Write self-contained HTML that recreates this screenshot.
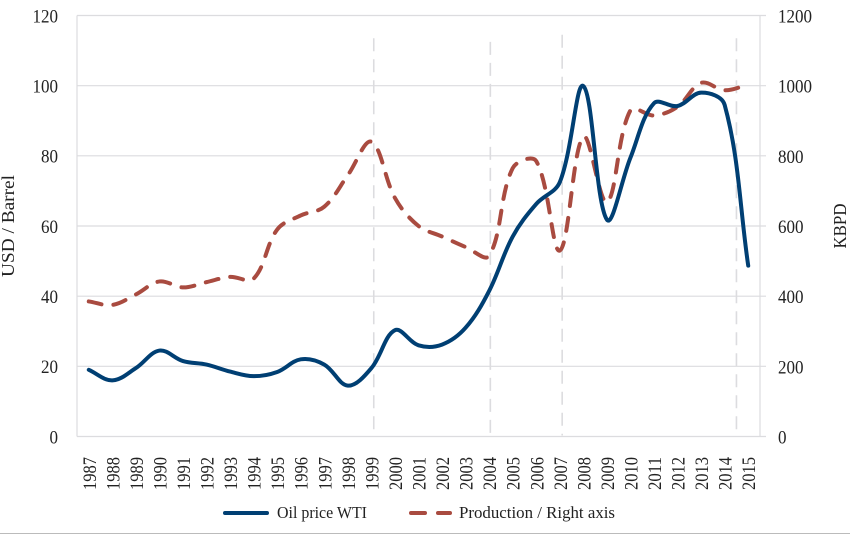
<!DOCTYPE html>
<html lang="en">
<head>
<meta charset="utf-8">
<title>Oil price and production</title>
<style>
html,body{margin:0;padding:0;background:#fff;width:850px;height:534px;overflow:hidden}
svg{display:block}
text{font-family:"Liberation Serif",serif;fill:#222}
</style>
</head>
<body>
<svg id="chart" width="850" height="534" viewBox="0 0 850 534" xmlns="http://www.w3.org/2000/svg">
<g id="grid"></g>
<g id="events"></g>
<g id="left-ticks"></g>
<g id="right-ticks"></g>
<g id="x-ticks"></g>
<path id="production-line" fill="none" stroke="#a94b40" stroke-width="4" stroke-linecap="round" stroke-dasharray="13 12"></path>
<path id="oil-line" fill="none" stroke="#003f73" stroke-width="4" stroke-linecap="round" stroke-linejoin="round"></path>
<text transform="translate(14,226) rotate(-90)" text-anchor="middle" font-size="18" textLength="102" lengthAdjust="spacingAndGlyphs">USD / Barrel</text>
<text transform="translate(846,226) rotate(-90)" text-anchor="middle" font-size="18" textLength="45" lengthAdjust="spacingAndGlyphs">KBPD</text>
<g>
<line x1="225" y1="513" x2="267" y2="513" stroke="#003f73" stroke-width="4" stroke-linecap="round"></line>
<text x="277" y="518" font-size="16.5" textLength="90" lengthAdjust="spacingAndGlyphs">Oil price WTI</text>
<line x1="411" y1="513" x2="425" y2="513" stroke="#a94b40" stroke-width="4" stroke-linecap="round"></line>
<line x1="438" y1="513" x2="450" y2="513" stroke="#a94b40" stroke-width="4" stroke-linecap="round"></line>
<text x="459" y="518" font-size="16.5" textLength="156" lengthAdjust="spacingAndGlyphs">Production / Right axis</text>
</g>
<line x1="0" y1="533.5" x2="850" y2="533.5" stroke="#bbbbbb" stroke-width="1"></line>
</svg>
<script>
const years = [1987,1988,1989,1990,1991,1992,1993,1994,1995,1996,1997,1998,1999,2000,2001,2002,2003,2004,2005,2006,2007,2008,2009,2010,2011,2012,2013,2014,2015];
const oilPrice = [19,16,19.5,24.5,21.5,20.5,18.5,17.2,18.4,22,20.5,14.5,19.5,30.3,26,26.2,31,41.5,57,66.3,72.5,99.9,61.8,79.5,95,94.2,98,94.5,48.7];
const production = [385,375,405,442,425,440,455,450,590,630,655,745,840,680,600,570,540,515,765,785,530,855,668,930,915,940,1008,987,1003];
const leftTicks = [0,20,40,60,80,100,120];
const rightTicks = [0,200,400,600,800,1000,1200];
const eventYears = [1999.1,2004.05,2007.1,2014.5];
const eventTopValues = [113.5,112.5,114.5,113.5];

const NS = 'http://www.w3.org/2000/svg';
const plotLeft = 77, plotRight = 760, plotTop = 15.5, plotBottom = 436.5;
const bandWidth = (plotRight - plotLeft) / years.length;
const leftMax = 120, rightMax = 1200;
function xYear(y){ return plotLeft + bandWidth * (y - years[0] + 0.5); }
function yLeft(v){ return plotBottom - (v / leftMax) * (plotBottom - plotTop); }
function yRight(v){ return plotBottom - (v / rightMax) * (plotBottom - plotTop); }
function make(tag, attrs, parent){
  const el = document.createElementNS(NS, tag);
  for (const k in attrs) el.setAttribute(k, attrs[k]);
  parent.appendChild(el);
  return el;
}
function chord(a, b){ return Math.hypot(b[0] - a[0], b[1] - a[1]); }
function handle(pts, i, towardNext){
  const prev = pts[Math.max(i - 1, 0)], cur = pts[i], next = pts[Math.min(i + 1, pts.length - 1)];
  const dIn = chord(prev, cur), dOut = chord(cur, next);
  const share = (towardNext ? dOut : dIn) / (dIn + dOut);
  const sign = towardNext ? 1 : -1;
  return [cur[0] + sign * (next[0] - prev[0]) * share * 0.36, cur[1] + sign * (next[1] - prev[1]) * share * 0.36];
}
function smoothPath(pts){
  let d = 'M' + pts[0][0].toFixed(2) + ' ' + pts[0][1].toFixed(2);
  for (let i = 0; i < pts.length - 1; i++){
    const c1 = handle(pts, i, true), c2 = handle(pts, i + 1, false), p2 = pts[i + 1];
    d += 'C' + c1[0].toFixed(2) + ' ' + c1[1].toFixed(2) + ' ' + c2[0].toFixed(2) + ' ' + c2[1].toFixed(2) + ' ' + p2[0].toFixed(2) + ' ' + p2[1].toFixed(2);
  }
  return d;
}
const grid = document.getElementById('grid');
leftTicks.forEach(function(t){
  const el = make('line', {x1: plotLeft, x2: plotRight + 6, y1: yLeft(t), y2: yLeft(t), stroke: '#dcdcdf', 'stroke-width': 1.2}, grid);
  
  
});
[plotLeft, plotRight].forEach(function(x){
  const el = make('line', {x1: x, x2: x, y1: plotTop, y2: plotBottom, stroke: '#dcdcdf', 'stroke-width': 1.2}, grid);
  
  
});
const events = document.getElementById('events');
eventYears.forEach(function(y, i){
  const el = make('line', {x1: xYear(y), x2: xYear(y), y1: yLeft(eventTopValues[i]), y2: plotBottom - 1, stroke: '#dcdcdf', 'stroke-width': 1.6, 'stroke-dasharray': '13 8'}, events);
  
  
});
const lt = document.getElementById('left-ticks');
leftTicks.forEach(function(t){
  const el = make('text', {x: 58, y: yLeft(t) + 6.8, 'text-anchor': 'end', 'font-size': 18.5, textLength: String(t).length * 8.5, lengthAdjust: 'spacingAndGlyphs'}, lt);
  
  
  el.textContent = t;
});
const rt = document.getElementById('right-ticks');
rightTicks.forEach(function(t){
  const el = make('text', {x: 778, y: yRight(t) + 7, 'font-size': 18.5, textLength: String(t).length * 8.5, lengthAdjust: 'spacingAndGlyphs'}, rt);
  
  
  el.textContent = t;
});
const xt = document.getElementById('x-ticks');
years.forEach(function(y){
  const el = make('text', {transform: 'translate(' + (xYear(y) + 7) + ',457) rotate(-90)', 'text-anchor': 'end', 'font-size': 18.5, textLength: 33, lengthAdjust: 'spacingAndGlyphs'}, xt);
  
  
  el.textContent = y;
});
document.getElementById('oil-line').setAttribute('d', smoothPath(oilPrice.map(function(v, i){ return [xYear(years[i]), yLeft(v)]; })));
document.getElementById('production-line').setAttribute('d', smoothPath(production.map(function(v, i){ return [xYear(years[i]), yRight(v)]; })));
</script>
</body>
</html>
